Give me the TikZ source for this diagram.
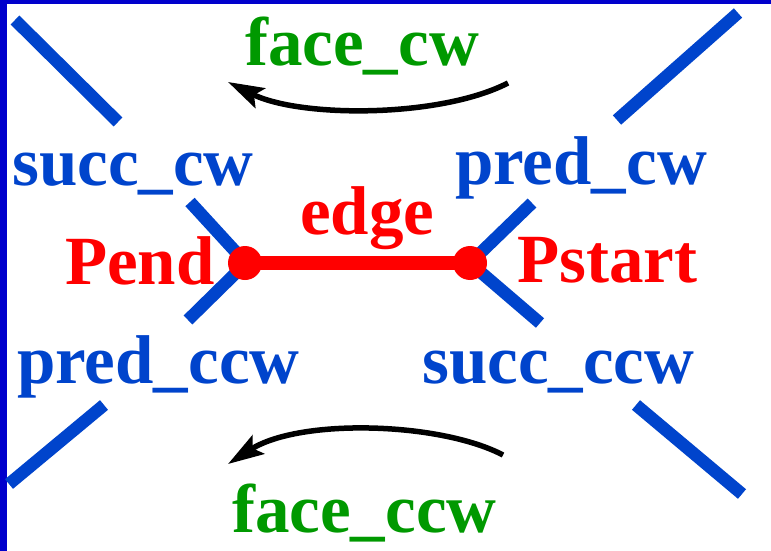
\documentclass[tikz,border=0pt]{standalone}
\usepackage{fontspec}
\setmainfont{Liberation Serif}
\usetikzlibrary{arrows.meta}
\definecolor{lblue}{RGB}{0,68,204}
\definecolor{bblue}{RGB}{0,0,204}
\definecolor{dgreen}{RGB}{0,153,0}
\definecolor{rred}{RGB}{255,0,0}
\begin{document}
\begin{tikzpicture}[x=1pt,y=-1pt,
  lbl/.style={anchor=base west,inner sep=0pt,font=\fontsize{69}{69}\selectfont\bfseries},
  half/.style={draw=lblue,line width=12.5pt},
  endpt/.style={circle,fill=rred,inner sep=0pt,minimum size=34pt},
  turn/.style={draw=black,line width=5.5pt,-{Stealth[length=36pt,width=22pt,inset=7pt]}}]
\useasboundingbox (0,0) rectangle (771,551);
\fill[white] (0,0) rectangle (771,551);
\fill[bblue] (0,0) rectangle (7,551);
\fill[bblue] (0,0) rectangle (771,4);
% blue half-edges
\draw[half] (15,20) -- (118,122);
\draw[half] (738,13) -- (617,120);
\draw[half] (190,202) -- (245,262);
\draw[half] (245,264) -- (188,320);
\draw[half] (532,203) -- (470,263);
\draw[half] (470,263) -- (540,323);
\draw[half] (104,405) -- (9,484);
\draw[half] (636,405) -- (742,494);
% edge
\node[endpt] (pe) at (245,263) {};
\node[endpt] (ps) at (470,263) {};
\draw[rred,line width=14pt] (pe.center) -- (ps.center);
% labels
\node[lbl,text=dgreen] (fcw) at (245,66) {face\_cw};
\node[lbl,text=dgreen] (fccw) at (232,532) {face\_ccw};
\node[lbl,text=lblue] (scw) at (12,185) {succ\_cw};
\node[lbl,text=lblue] (pcw) at (455,184) {pred\_cw};
\node[lbl,text=lblue] (pccw) at (17,383) {pred\_ccw};
\node[lbl,text=lblue] (sccw) at (422,383) {succ\_ccw};
\node[lbl,text=rred] (edg) at (300,234) {edge};
\node[lbl,text=rred] (pend) at (65,284) {Pend};
\node[lbl,text=rred] (pst) at (517,282) {Pstart};
% face arrows
\coordinate (a1) at (508,83);
\coordinate (a2) at (228,82);
\coordinate (b1) at (503,455);
\coordinate (b2) at (228,464);
\draw[turn] (a1) .. controls (440,118) and (300,118) .. (a2);
\draw[turn] (b1) .. controls (440,422) and (300,418) .. (b2);
\end{tikzpicture}
\end{document}
